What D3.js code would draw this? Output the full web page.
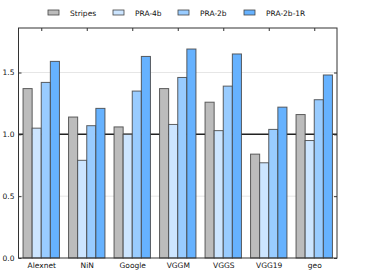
<!DOCTYPE html>
<html>
<head>
<meta charset="utf-8">
<script src="https://cdn.jsdelivr.net/npm/d3@7"></script>
<style>
  body { margin: 0; background: #fff; }
  text { font-family: "DejaVu Sans", sans-serif; }
</style>
</head>
<body>
<div id="chart"></div>
<script>
const categories = ["Alexnet", "NiN", "Google", "VGGM", "VGGS", "VGG19", "geo"];
const seriesNames = ["Stripes", "PRA-4b", "PRA-2b", "PRA-2b-1R"];
const stripes = [1.37, 1.14, 1.06, 1.37, 1.26, 0.84, 1.16];
const pra4b   = [1.05, 0.79, 1.00, 1.08, 1.03, 0.77, 0.95];
const pra2b   = [1.42, 1.07, 1.35, 1.46, 1.39, 1.04, 1.28];
const pra2b1r = [1.59, 1.21, 1.63, 1.69, 1.65, 1.22, 1.48];
const yTicks = [0.0, 0.5, 1.0, 1.5];
const colors = ["#bcbcbc", "#cce5ff", "#99ccff", "#66b2ff"];

const series = [stripes, pra4b, pra2b, pra2b1r];

const width = 374, height = 280;
const margin = { top: 28, right: 37, bottom: 22, left: 18.5 };
const iw = width - margin.left - margin.right;
const ih = height - margin.top - margin.bottom;

const svg = d3.select("#chart").append("svg")
  .attr("width", width)
  .attr("height", height);

const g = svg.append("g")
  .attr("transform", "translate(" + margin.left + "," + margin.top + ")");

// x in group units, -0.5 .. 6.5
const x = d3.scaleLinear().domain([-0.5, categories.length - 0.5]).range([0, iw]);
const y = d3.scaleLinear().domain([0, 1.86]).range([ih, 0]);

// grid
g.selectAll(".grid")
  .data(yTicks.filter(d => d > 0))
  .enter().append("line")
  .attr("x1", 0).attr("x2", iw)
  .attr("y1", d => y(d)).attr("y2", d => y(d))
  .attr("stroke", "#e6e6e6").attr("stroke-width", 1);

// baseline at 1.0
g.append("line")
  .attr("x1", 0).attr("x2", iw)
  .attr("y1", y(1)).attr("y2", y(1))
  .attr("stroke", "#222").attr("stroke-width", 1.5);

// bars
const bw = 0.2;
series.forEach(function (vals, s) {
  g.selectAll(".bar" + s)
    .data(vals)
    .enter().append("rect")
    .attr("x", (d, i) => x(i - 0.4 + s * bw))
    .attr("width", x(bw) - x(0))
    .attr("y", d => y(d))
    .attr("height", d => y(0) - y(d))
    .attr("fill", colors[s])
    .attr("stroke", "#444")
    .attr("stroke-opacity", 0.85)
    .attr("stroke-width", 1);
});

// frame
g.append("rect")
  .attr("x", 0).attr("y", 0)
  .attr("width", iw).attr("height", ih)
  .attr("fill", "none")
  .attr("stroke", "#333")
  .attr("stroke-width", 1);

// y axis left / right ticks inward
const yAxisL = d3.axisLeft(y).tickValues(yTicks).tickFormat(d3.format(".1f")).tickSizeInner(-3).tickSizeOuter(0).tickPadding(4);
const gl = g.append("g").call(yAxisL);
gl.select(".domain").remove();
gl.selectAll("line").attr("stroke", "#333");
gl.selectAll("text").attr("font-size", 7.5).attr("fill", "#111");

const gr = g.append("g").attr("transform", "translate(" + iw + ",0)")
  .call(d3.axisRight(y).tickValues(yTicks).tickFormat("").tickSizeInner(-3).tickSizeOuter(0));
gr.select(".domain").remove();
gr.selectAll("line").attr("stroke", "#333");

// x axis
const xb = g.append("g").attr("transform", "translate(0," + ih + ")")
  .call(d3.axisBottom(x).tickValues(d3.range(categories.length)).tickFormat(i => categories[i]).tickSize(0).tickPadding(5));
xb.select(".domain").remove();
xb.selectAll("text").attr("font-size", 7.5).attr("fill", "#111");

const xt = g.append("g")
  .call(d3.axisTop(x).tickValues(d3.range(categories.length)).tickFormat("").tickSizeInner(-3).tickSizeOuter(0));
xt.select(".domain").remove();
xt.selectAll("line").attr("stroke", "#333");

// legend
const legendX = [48, 113, 178, 244];
const legend = svg.append("g");
seriesNames.forEach(function (name, s) {
  legend.append("rect")
    .attr("x", legendX[s]).attr("y", 10)
    .attr("width", 11).attr("height", 5)
    .attr("fill", colors[s])
    .attr("stroke", "#444").attr("stroke-width", 0.8);
  legend.append("text")
    .attr("x", legendX[s] + 22).attr("y", 15.5)
    .attr("font-size", 7.5).attr("fill", "#111")
    .text(name);
});
</script>
</body>
</html>
